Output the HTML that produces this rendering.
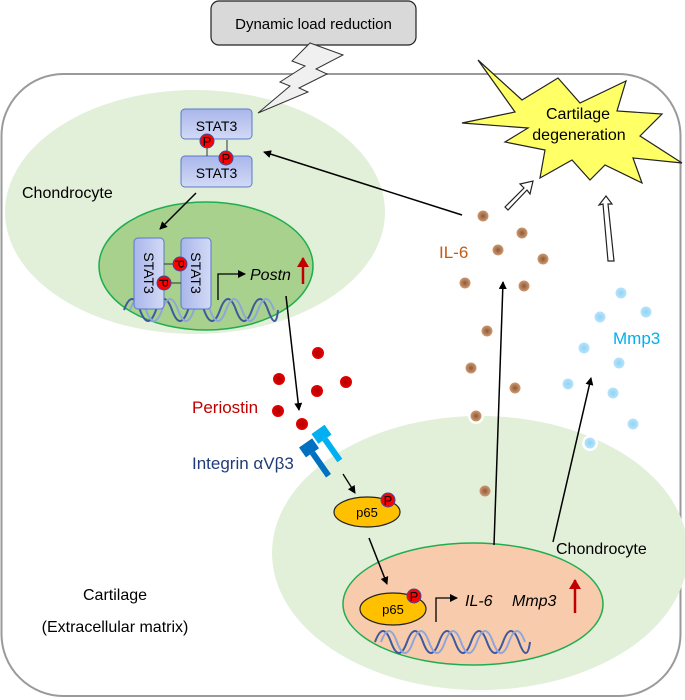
<!DOCTYPE html>
<html><head><meta charset="utf-8"><style>
html,body{margin:0;padding:0;background:#fff;}
svg{display:block;font-family:"Liberation Sans",Arial,sans-serif;}
</style></head><body>
<svg width="685" height="700" viewBox="0 0 685 700" xmlns="http://www.w3.org/2000/svg">
<defs>
<linearGradient id="sg" x1="0" y1="0" x2="0" y2="1"><stop offset="0" stop-color="#a9b6ea"/><stop offset="1" stop-color="#d3daf6"/></linearGradient>
<linearGradient id="sgv" x1="0" y1="0" x2="1" y2="0"><stop offset="0" stop-color="#a9b6ea"/><stop offset="1" stop-color="#d3daf6"/></linearGradient>
<radialGradient id="rd"><stop offset="0" stop-color="#b00000"/><stop offset="1" stop-color="#e60000"/></radialGradient>
<radialGradient id="br"><stop offset="0" stop-color="#8a5a3a"/><stop offset="1" stop-color="#d09a70"/></radialGradient>
<radialGradient id="bl"><stop offset="0" stop-color="#8fd3f7"/><stop offset="1" stop-color="#b8e3fa"/></radialGradient>
<marker id="ah" markerWidth="8" markerHeight="8" refX="7" refY="4" orient="auto" markerUnits="userSpaceOnUse"><path d="M0,0 L8,4 L0,8 Z" fill="#000"/></marker>
<marker id="rh" markerWidth="10" markerHeight="12" refX="9" refY="6" orient="auto" markerUnits="userSpaceOnUse"><path d="M0,0 L10,6 L0,12 Z" fill="#c00000"/></marker>
</defs>

<rect x="1.5" y="74" width="679" height="622" rx="62" fill="#fff" stroke="#9a9a9a" stroke-width="2"/>

<ellipse cx="195" cy="212" rx="190" ry="122" fill="#e2efd9"/>
<ellipse cx="206" cy="266" rx="107" ry="64" fill="#a9d18e" stroke="#1fae4f" stroke-width="1.5"/>
<ellipse cx="480" cy="553" rx="208" ry="137" fill="#e2efd9"/>
<ellipse cx="473" cy="604" rx="130" ry="61" fill="#f8cbad" stroke="#1fae4f" stroke-width="1.5"/>

<rect x="211" y="1" width="205" height="44" rx="8" fill="#d9d9d9" stroke="#222" stroke-width="1.2"/>
<text x="313.5" y="29" font-size="15" text-anchor="middle" fill="#000">Dynamic load reduction</text>
<polygon points="310,43 343,55 316,69 327,74 299,88 308,92 258,113 290,86 280,82 305,66 292,61" fill="#f0f0f0" stroke="#333" stroke-width="1"/>

<polygon points="478,60 522,100 558,78 580,103 626,81 617,111 662,114 640,136 682,163 633,158 642,183 605,165 590,180 572,160 540,178 545,150 505,142 528,128 462,123 515,112" fill="#ffff66" stroke="#222" stroke-width="1.2"/>
<text x="578" y="119" font-size="16" text-anchor="middle">Cartilage</text>
<text x="579" y="140" font-size="16" text-anchor="middle">degeneration</text>

<g fill="#fff" stroke="#222" stroke-width="1.2">
<polygon points="505,207 524,188 520,184 533,181 530,194 527,190 508,210"/>
<polygon points="608,261 603,204 599,205 606,196 612,204 608,204 614,261"/>
</g>

<rect x="181" y="109" width="71" height="30" rx="4" fill="url(#sg)" stroke="#5b79c8" stroke-width="1"/>
<text x="216.5" y="131" font-size="14" text-anchor="middle">STAT3</text>
<rect x="181" y="156" width="71" height="31" rx="4" fill="url(#sg)" stroke="#5b79c8" stroke-width="1"/>
<text x="216.5" y="178" font-size="14" text-anchor="middle">STAT3</text>
<line x1="207" y1="140" x2="207" y2="156" stroke="#333"/>
<line x1="227" y1="140" x2="227" y2="156" stroke="#333"/>
<circle cx="207" cy="141" r="7" fill="#f00" stroke="#3a4fa0" stroke-width="1"/><text x="207" y="146" font-size="13" text-anchor="middle">P</text>
<circle cx="226" cy="158" r="7" fill="#f00" stroke="#3a4fa0" stroke-width="1"/><text x="226" y="163" font-size="13" text-anchor="middle">P</text>

<text x="22" y="198" font-size="16">Chondrocyte</text>
<line x1="196" y1="193" x2="160" y2="229" stroke="#000" stroke-width="1.5" marker-end="url(#ah)"/>

<g fill="none" stroke-width="2">
<path d="M124,316 q8,-22 16,0 t16,0 t16,0 t16,0 t16,0 t16,0 t16,0 t16,0 t16,0 t10,0" stroke="#3d5a9e" transform="translate(0,-6)"/>
<path d="M130,316 q8,-22 16,0 t16,0 t16,0 t16,0 t16,0 t16,0 t16,0 t16,0 t16,0" stroke="#8fa6d6" transform="translate(0,-6)"/>
</g>
<rect x="134" y="238" width="30" height="71" rx="4" fill="url(#sgv)" stroke="#5b79c8"/>
<text transform="translate(144,273) rotate(90)" font-size="14" text-anchor="middle">STAT3</text>
<rect x="181" y="238" width="30" height="71" rx="4" fill="url(#sgv)" stroke="#5b79c8"/>
<text transform="translate(191,273) rotate(90)" font-size="14" text-anchor="middle">STAT3</text>
<line x1="164" y1="264" x2="181" y2="264" stroke="#333"/>
<line x1="164" y1="283" x2="181" y2="283" stroke="#333"/>
<circle cx="180" cy="264" r="7" fill="#f00" stroke="#3a4fa0"/><text transform="translate(180,264) rotate(90)" y="5" font-size="13" text-anchor="middle">P</text>
<circle cx="164" cy="283" r="7" fill="#f00" stroke="#3a4fa0"/><text transform="translate(164,283) rotate(90)" y="5" font-size="13" text-anchor="middle">P</text>
<polyline points="218,300 218,274 245,274" fill="none" stroke="#000" stroke-width="1.3" marker-end="url(#ah)"/>
<text x="250" y="280" font-size="16" font-style="italic">Postn</text>
<line x1="303" y1="284" x2="303" y2="258" stroke="#c00000" stroke-width="2.5" marker-end="url(#rh)"/>

<line x1="286" y1="296" x2="299" y2="410" stroke="#000" stroke-width="1.5" marker-end="url(#ah)"/>
<line x1="462" y1="215" x2="264" y2="152" stroke="#000" stroke-width="1.5" marker-end="url(#ah)"/>
<line x1="494" y1="545" x2="503" y2="282" stroke="#000" stroke-width="1.5" marker-end="url(#ah)"/>
<line x1="553" y1="542" x2="591" y2="378" stroke="#000" stroke-width="1.5" marker-end="url(#ah)"/>

<g fill="url(#rd)">
<circle cx="318" cy="353" r="6"/><circle cx="279" cy="379" r="6"/><circle cx="317" cy="391" r="6"/>
<circle cx="346" cy="382" r="6"/><circle cx="278" cy="411" r="6"/><circle cx="302" cy="424" r="6"/>
</g>
<text x="192" y="413" font-size="17" fill="#c00000">Periostin</text>
<text x="192" y="469" font-size="17" fill="#1f3b78">Integrin αVβ3</text>

<g transform="rotate(-35 325 455)">
<rect x="308" y="434" width="16" height="12" fill="#0070c0"/><rect x="313" y="446" width="6" height="28" fill="#0070c0"/>
<rect x="326" y="430" width="16" height="12" fill="#00b0f0"/><rect x="331" y="442" width="6" height="26" fill="#00b0f0"/>
</g>
<line x1="343" y1="474" x2="355" y2="493" stroke="#000" stroke-width="1.3" marker-end="url(#ah)"/>

<ellipse cx="367" cy="512" rx="33" ry="15" fill="#ffc000" stroke="#222" stroke-width="1.2"/>
<text x="367" y="517" font-size="13" text-anchor="middle">p65</text>
<circle cx="388" cy="500" r="7" fill="#f00" stroke="#3a4fa0"/><text x="388" y="505" font-size="13" text-anchor="middle">P</text>
<line x1="369" y1="538" x2="387" y2="584" stroke="#000" stroke-width="1.5" marker-end="url(#ah)"/>

<g fill="none" stroke-width="2">
<path d="M375,642 q8,-22 16,0 t16,0 t16,0 t16,0 t16,0 t16,0 t16,0 t16,0 t16,0 t11,0" stroke="#3d5a9e"/>
<path d="M381,642 q8,-22 16,0 t16,0 t16,0 t16,0 t16,0 t16,0 t16,0 t16,0 t16,0" stroke="#8fa6d6"/>
</g>
<ellipse cx="393" cy="609" rx="33" ry="16" fill="#ffc000" stroke="#222" stroke-width="1.2"/>
<text x="393" y="614" font-size="13" text-anchor="middle">p65</text>
<circle cx="414" cy="596" r="7" fill="#f00" stroke="#3a4fa0"/><text x="414" y="601" font-size="13" text-anchor="middle">P</text>
<polyline points="436,622 436,598 457,598" fill="none" stroke="#000" stroke-width="1.3" marker-end="url(#ah)"/>
<text x="465" y="606" font-size="16" font-style="italic">IL-6</text>
<text x="512" y="606" font-size="16" font-style="italic">Mmp3</text>
<line x1="575" y1="613" x2="575" y2="580" stroke="#c00000" stroke-width="2.5" marker-end="url(#rh)"/>

<text x="556" y="554" font-size="16">Chondrocyte</text>
<text x="115" y="600" font-size="16" text-anchor="middle">Cartilage</text>
<text x="115" y="632" font-size="16" text-anchor="middle">(Extracellular matrix)</text>

<circle cx="476" cy="416" r="8" fill="#fff"/><circle cx="590" cy="443" r="8" fill="#fff"/>
<g fill="url(#br)">
<circle cx="483" cy="216" r="5.5"/><circle cx="522" cy="233" r="5.5"/><circle cx="498" cy="250" r="5.5"/>
<circle cx="543" cy="259" r="5.5"/><circle cx="465" cy="283" r="5.5"/><circle cx="524" cy="286" r="5.5"/>
<circle cx="487" cy="331" r="5.5"/><circle cx="471" cy="368" r="5.5"/><circle cx="515" cy="388" r="5.5"/>
<circle cx="476" cy="416" r="5.5"/><circle cx="485" cy="491" r="5.5"/>
</g>
<text x="439" y="258" font-size="17" fill="#c55a11">IL-6</text>
<g fill="url(#bl)">
<circle cx="621" cy="293" r="5.5"/><circle cx="600" cy="317" r="5.5"/><circle cx="646" cy="312" r="5.5"/>
<circle cx="584" cy="348" r="5.5"/><circle cx="619" cy="363" r="5.5"/><circle cx="568" cy="384" r="5.5"/>
<circle cx="613" cy="393" r="5.5"/><circle cx="633" cy="424" r="5.5"/><circle cx="590" cy="443" r="5.5"/>
</g>
<text x="613" y="344" font-size="17" fill="#00b0f0">Mmp3</text>
</svg>
</body></html>
